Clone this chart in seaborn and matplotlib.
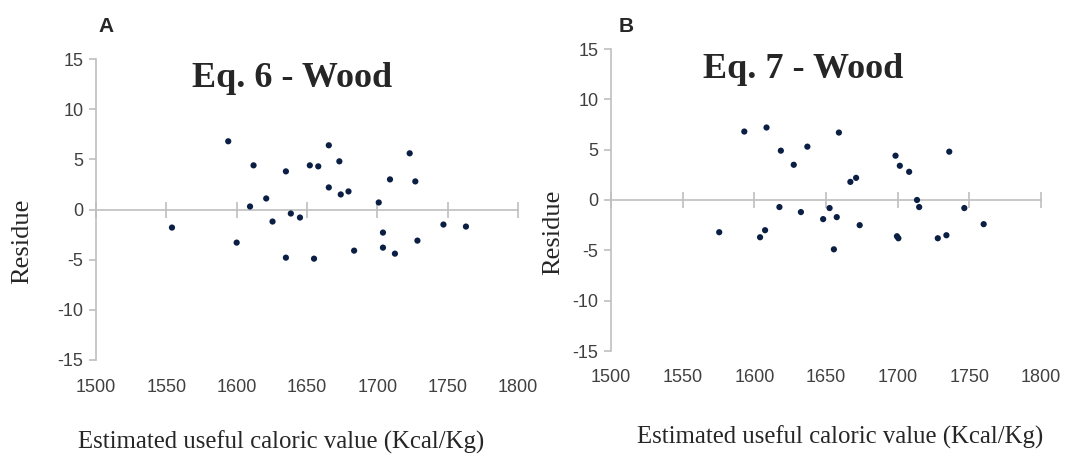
import matplotlib
matplotlib.use("Agg")
import matplotlib.pyplot as plt
import seaborn as sns
import pandas as pd

# panel A - Eq. 6
est_a = [1554, 1594, 1600, 1609.5, 1612, 1621, 1625.5, 1635, 1635, 1638.5,
         1645, 1652, 1655, 1658, 1665.5, 1665.5, 1673, 1674, 1679.5, 1683.5,
         1701, 1704, 1704, 1709, 1712.5, 1723, 1727, 1728.5, 1747, 1763]
res_a = [-1.8, 6.8, -3.3, 0.3, 4.4, 1.1, -1.2, 3.8, -4.8, -0.4,
         -0.8, 4.4, -4.9, 4.3, 6.4, 2.2, 4.8, 1.5, 1.8, -4.1,
         0.7, -2.3, -3.8, 3.0, -4.4, 5.6, 2.8, -3.1, -1.5, -1.7]

# panel B - Eq. 7
est_b = [1575.5, 1593, 1604, 1607.5, 1608.5, 1617.5, 1618.5, 1627.5, 1632.5, 1637,
         1648, 1652.5, 1655.5, 1657.5, 1659, 1667, 1671, 1673.5, 1698.5, 1699.5,
         1700.5, 1701.5, 1708, 1713.5, 1715, 1728, 1734, 1736, 1746.5, 1760]
res_b = [-3.2, 6.8, -3.7, -3.0, 7.2, -0.7, 4.9, 3.5, -1.2, 5.3,
         -1.9, -0.8, -4.9, -1.7, 6.7, 1.8, 2.2, -2.5, 4.4, -3.6,
         -3.8, 3.4, 2.8, 0.0, -0.7, -3.8, -3.5, 4.8, -0.8, -2.4]

x_ticks = [1500, 1550, 1600, 1650, 1700, 1750, 1800]
y_ticks = [-15, -10, -5, 0, 5, 10, 15]

sns.set_style("white")
plt.rcParams["font.family"] = ["Liberation Sans", "DejaVu Sans"]
plt.rcParams["axes.unicode_minus"] = False

grey = "#bfbfbf"
txt = "#404040"
dot = "#0b1f45"

fig = plt.figure(figsize=(10.78, 4.59), dpi=100)


def panel(rect, est, res, title, letter, title_xy, letter_xy, ylab_xy, xlab_xy, label_pad):
    ax = fig.add_axes(rect)
    df = pd.DataFrame({"est": est, "res": res})
    sns.scatterplot(data=df, x="est", y="res", ax=ax, color=dot, s=20,
                    edgecolor="none", legend=False, zorder=3)
    ax.set_xlim(1500, 1800)
    ax.set_ylim(-15, 15)
    ax.set_xticks(x_ticks)
    ax.set_yticks(y_ticks)
    ax.set_xlabel("")
    ax.set_ylabel("")
    for s in ["top", "right"]:
        ax.spines[s].set_visible(False)
    ax.spines["left"].set_color(grey)
    ax.spines["left"].set_linewidth(1.2)
    ax.spines["bottom"].set_position(("data", 0))
    ax.spines["bottom"].set_color(grey)
    ax.spines["bottom"].set_linewidth(1.2)
    ax.tick_params(axis="x", bottom=True, direction="inout", length=12, width=1.2,
                   color=grey, labelbottom=False)
    ax.tick_params(axis="y", left=True, direction="out", length=5, width=1.2,
                   color=grey, labelsize=13, labelcolor=txt, pad=4)
    sec = ax.secondary_xaxis("bottom")
    sec.set_xticks(x_ticks)
    sec.spines["bottom"].set_visible(False)
    sec.tick_params(bottom=True, length=0, labelsize=13, labelcolor=txt, pad=label_pad)

    fig.text(title_xy[0] / 1078, 1 - title_xy[1] / 459, title, fontsize=26,
             fontweight="bold", family="Liberation Serif", ha="center", va="center")
    fig.text(letter_xy[0] / 1078, 1 - letter_xy[1] / 459, letter, fontsize=15,
             fontweight="bold", ha="center", va="center")
    fig.text(ylab_xy[0] / 1078, 1 - ylab_xy[1] / 459, "Residue", fontsize=19,
             family="Liberation Serif", rotation=90, ha="center", va="center")
    fig.text(xlab_xy[0] / 1078, 1 - xlab_xy[1] / 459,
             "Estimated useful caloric value (Kcal/Kg)",
             fontsize=17.8, family="Liberation Serif", ha="center", va="center")
    return ax


panel([96 / 1078, 1 - 360 / 459, 422 / 1078, 301 / 459], est_a, res_a,
      "Eq. 6 - Wood", "A", (292, 78), (106, 26), (22, 241), (281, 442), 14)
panel([611 / 1078, 1 - 351 / 459, 430 / 1078, 302 / 459], est_b, res_b,
      "Eq. 7 - Wood", "B", (803, 70), (626, 27), (553, 232), (840, 437), 13)

fig.savefig("out.png", dpi=100)
